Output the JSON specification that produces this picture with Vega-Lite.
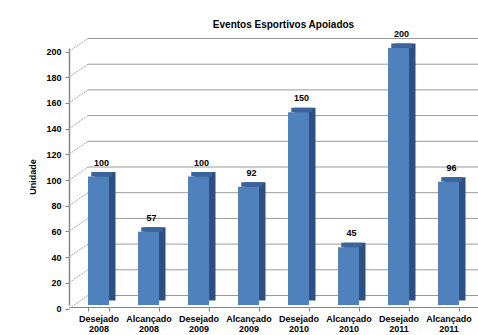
{
  "$schema": "https://vega.github.io/schema/vega-lite/v6.json",
  "width": 409,
  "height": 257,
  "autosize": "none",
  "padding": {"left": 69, "top": 48, "right": 0, "bottom": 30},
  "background": "white",
  "config": {"view": {"stroke": null}, "font": "Liberation Sans"},
  "title": {"text": "Eventos Esportivos Apoiados", "fontSize": 10, "font": "Liberation Sans", "fontWeight": "bold", "anchor": "middle", "frame": "group", "dx": 10, "offset": -8, "baseline": "alphabetic", "color": "black"},
  "datasets": {
    "eventos": [
      {"categoria": "Desejado 2008", "valor": 100},
      {"categoria": "Alcançado 2008", "valor": 57},
      {"categoria": "Desejado 2009", "valor": 100},
      {"categoria": "Alcançado 2009", "valor": 92},
      {"categoria": "Desejado 2010", "valor": 150},
      {"categoria": "Alcançado 2010", "valor": 45},
      {"categoria": "Desejado 2011", "valor": 200},
      {"categoria": "Alcançado 2011", "valor": 96}
    ],
    "grade": [
      {"v": 0}, {"v": 20}, {"v": 40}, {"v": 60}, {"v": 80}, {"v": 100},
      {"v": 120}, {"v": 140}, {"v": 160}, {"v": 180}, {"v": 200}
    ]
  },
  "encoding": {
    "x": {
      "field": "categoria", "type": "nominal", "title": null,
      "scale": {"type": "band", "domain": ["Desejado 2008", "Alcançado 2008", "Desejado 2009", "Alcançado 2009", "Desejado 2010", "Alcançado 2010", "Desejado 2011", "Alcançado 2011"], "paddingInner": 0.58, "paddingOuter": 0.38},
      "axis": {"title": null, "labelExpr": "split(datum.label, ' ')", "labelFont": "Liberation Sans", "labelFontSize": 9, "labelFontWeight": "bold", "labelColor": "black", "labelLineHeight": 10, "labelPadding": 3, "labelAngle": 0, "tickBand": "extent", "tickOffset": -5, "tickSize": 4, "tickColor": "#868686", "domainColor": "#868686", "offset": 2, "grid": false}
    },
    "y": {
      "field": "valor", "type": "quantitative", "title": "Unidade",
      "scale": {"domain": [0, 200], "nice": false, "zero": true},
      "axis": {"values": [0, 20, 40, 60, 80, 100, 120, 140, 160, 180, 200], "title": "Unidade", "titleFont": "Liberation Sans", "titleFontSize": 9, "titleFontWeight": "bold", "titleColor": "black", "titlePadding": 8, "labelFont": "Liberation Sans", "labelFontSize": 9, "labelFontWeight": "bold", "labelColor": "black", "labelPadding": 4, "tickSize": 4, "tickColor": "#868686", "tickOffset": 3.5, "domainColor": "#868686", "domainWidth": 1.5, "grid": false}
    }
  },
  "layer": [
    {
      "data": {"name": "grade"},
      "mark": {"type": "rule", "color": "#9a9a9a", "strokeWidth": 1, "yOffset": -9.5},
      "encoding": {
        "x": {"datum": "Desejado 2008", "type": "nominal", "bandPosition": 0, "title": null},
        "x2": {"value": "width"},
        "y": {"field": "v", "type": "quantitative", "title": "Unidade"}
      }
    },
    {
      "data": {"name": "grade"},
      "mark": {"type": "rule", "color": "#a8a8a8", "strokeWidth": 1, "strokeDash": [2, 1], "yOffset": -9.5, "y2Offset": 3.5},
      "encoding": {
        "x": {"datum": "Desejado 2008", "type": "nominal", "bandPosition": 0, "title": null},
        "x2": {"value": 0},
        "y": {"field": "v", "type": "quantitative", "title": "Unidade"},
        "y2": {"field": "v"}
      }
    },
    {
      "data": {"name": "eventos"},
      "mark": {"type": "bar", "color": "#2f507e", "xOffset": 6.5, "yOffset": -4.5, "y2Offset": -4.5}
    },
    {
      "data": {"name": "eventos"},
      "mark": {"type": "bar", "color": "#3c649c", "xOffset": 3.25, "yOffset": -4.5},
      "encoding": {
        "y2": {"field": "valor"}
      }
    },
    {
      "data": {"name": "eventos"},
      "mark": {"type": "bar", "color": "#4f81bd"}
    },
    {
      "data": {"name": "eventos"},
      "mark": {"type": "text", "dx": 3, "dy": -11, "baseline": "alphabetic", "align": "center", "font": "Liberation Sans", "fontSize": 9, "fontWeight": "bold", "color": "black"},
      "encoding": {
        "text": {"field": "valor", "type": "quantitative"}
      }
    }
  ]
}
